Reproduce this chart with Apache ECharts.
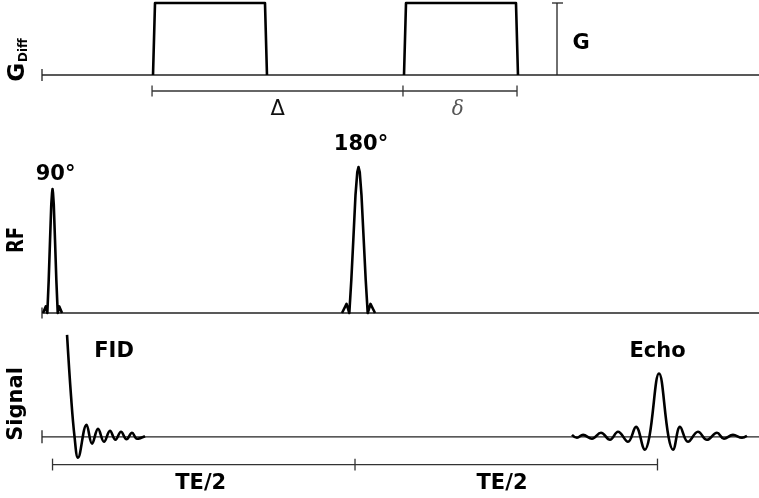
<!DOCTYPE html>
<html>
<head>
<meta charset="utf-8">
<script src="https://cdn.jsdelivr.net/npm/echarts@6/dist/echarts.min.js"></script>
<style>
  html, body { margin: 0; padding: 0; background: #fff; }
  #chart { width: 759px; height: 498px; }
</style>
</head>
<body>
<div id="chart"></div>
<script>
/* time in ms: 90° pulse at 0, echo at TE = 100 */
var tStart = -1.74, tEnd = 116.78;

/* diffusion gradient lobes [t, G/Gmax] */
var gradLobe1 = [[16.61, 0], [16.94, 1], [35.12, 1], [35.45, 0]];
var gradLobe2 = [[58.10, 0], [58.43, 1], [76.61, 1], [76.94, 0]];
var gradAmpT = 83.39;
var gradCap = [82.56, 84.38];
var deltaTicks = [16.45, 57.93, 76.78];

/* RF pulses [t, B1] */
var rf90 = [[-1.57, 0], [-1.12, 0.045], [-0.86, 0], [-0.63, 0.226], [-0.41, 0.5],
            [-0.21, 0.74], [-0.08, 0.822], [0, 0.849], [0.08, 0.822], [0.21, 0.74],
            [0.41, 0.5], [0.63, 0.226], [0.86, 0], [1.12, 0.045], [1.57, 0]];
var rf180 = [[47.85, 0], [48.60, 0.062], [49.06, 0], [49.39, 0.226], [49.72, 0.5],
             [50.08, 0.808], [50.38, 0.966], [50.58, 1], [50.78, 0.966], [51.07, 0.808],
             [51.44, 0.5], [51.77, 0.226], [52.10, 0], [52.56, 0.062], [53.31, 0]];

/* signal [t, amplitude] */
var fid = [[2.40, 1.0], [3.06, 0.398], [3.64, 0], [4.21, -0.204], [5.62, 0.117],
           [6.53, -0.068], [7.52, 0.078], [8.51, -0.049], [9.50, 0.058], [10.41, -0.029],
           [11.32, 0.049], [12.23, -0.024], [13.14, 0.039], [13.97, -0.019], [15.29, 0.005]];
var echo = [[85.87, 0.019], [86.69, -0.010], [87.69, 0.019], [89.17, -0.019], [90.66, 0.039],
            [92.15, -0.029], [93.47, 0.049], [95.12, -0.049], [96.45, 0.097], [97.93, -0.126],
            [98.66, 0], [100.25, 0.621], [101.82, 0],
            [102.56, -0.126], [103.72, 0.097], [105.04, -0.049], [106.69, 0.049], [108.18, -0.029],
            [109.83, 0.039], [110.99, -0.019], [112.48, 0.019], [113.97, -0.010], [114.79, 0.010]];
var teTicks = [0, 50, 100];

/* text labels [t, y, text] */
var gradLabels = [[37.2, -0.458, 'Δ']];
var smallDeltaLabels = [[67.0, -0.458, 'δ']];
var gLabels = [[87.36, 0.458, 'G']];
var rfLabels = [[0.5, 0.962, '90°'], [50.99, 1.168, '180°']];
var sigLabels = [[10.17, 0.854, 'FID'], [100.0, 0.854, 'Echo'],
                 [24.5, -0.437, 'TE/2'], [74.3, -0.437, 'TE/2']];

var FONT = '"DejaVu Sans", sans-serif';

function line(g, data, w, color, smooth) {
  return {
    type: 'line', xAxisIndex: g, yAxisIndex: g, data: data, symbol: 'none',
    smooth: smooth || false, clip: false, silent: true,
    lineStyle: { width: w, color: color, join: 'round' }
  };
}
function ticks(g, ts, y, h, w, color) {
  return ts.map(function (t) { return line(g, [[t, y - h], [t, y + h]], w, color); });
}
function texts(g, items, style) {
  return {
    type: 'scatter', xAxisIndex: g, yAxisIndex: g, symbolSize: 0, clip: false, silent: true,
    data: items,
    itemStyle: { opacity: 1, color: '#000' },
    label: Object.assign({
      show: true, position: 'inside', offset: [0, 2], opacity: 1,
      formatter: function (p) { return p.data[2]; },
      fontFamily: FONT, fontSize: 21, fontWeight: 'bold', color: '#000'
    }, style || {})
  };
}

var series = [];
/* gradient panel */
series.push(line(0, [[tStart, 0], [tEnd, 0]], 1.3, '#222'));
series = series.concat(ticks(0, [tStart], 0, 0.083, 1.3, '#222'));
series.push(line(0, gradLobe1, 2.6, '#000'));
series.push(line(0, gradLobe2, 2.6, '#000'));
series.push(line(0, [[gradAmpT, 0], [gradAmpT, 1]], 1.3, '#222'));
series.push(line(0, [[gradCap[0], 1], [gradCap[1], 1]], 1.3, '#222'));
series.push(line(0, [[deltaTicks[0], -0.222], [deltaTicks[2], -0.222]], 1.3, '#333'));
series = series.concat(ticks(0, deltaTicks, -0.222, 0.076, 1.3, '#333'));
series.push(texts(0, gradLabels, { fontWeight: 'normal', fontSize: 21, color: '#111' }));
series.push(texts(0, smallDeltaLabels, { fontWeight: 'normal', fontStyle: 'italic',
  fontFamily: '"DejaVu Serif", serif', fontSize: 20, color: '#555' }));
series.push(texts(0, gLabels));
/* RF panel */
series.push(line(1, [[tStart, 0], [tEnd, 0]], 1.3, '#222'));
series = series.concat(ticks(1, [tStart], 0, 0.038, 1.3, '#222'));
series.push(line(1, rf90, 2.6, '#000'));
series.push(line(1, rf180, 2.6, '#000'));
series.push(texts(1, rfLabels));
/* signal panel */
series.push(line(2, [[tStart, 0], [tEnd, 0]], 1.3, '#222'));
series = series.concat(ticks(2, [tStart], 0, 0.063, 1.3, '#222'));
series.push(line(2, fid, 2.6, '#000', 0.4));
series.push(line(2, echo, 2.6, '#000', 0.4));
series.push(line(2, [[teTicks[0], -0.272], [teTicks[2], -0.272]], 1.3, '#333'));
series = series.concat(ticks(2, teTicks, -0.272, 0.058, 1.3, '#333'));
series.push(texts(2, sigLabels));

function xAx(g) {
  return { type: 'value', gridIndex: g, min: tStart, max: tEnd, show: false };
}
function yAx(g, mn, mx) {
  return { type: 'value', gridIndex: g, min: mn, max: mx, show: false };
}

var option = {
  animation: false,
  backgroundColor: '#fff',
  grid: [
    { left: 42, right: 0, top: 3, height: 115.2 },
    { left: 42, right: 0, top: 123.2, height: 204.4 },
    { left: 42, right: 0, top: 314.4, height: 185.4 }
  ],
  xAxis: [xAx(0), xAx(1), xAx(2)],
  yAxis: [yAx(0, -0.6, 1), yAx(1, -0.1, 1.3), yAx(2, -0.6, 1.2)],
  graphic: [
    { type: 'text', x: 18, y: 60, rotation: Math.PI / 2, silent: true,
      style: { text: '{g|G}{s|Diff}', align: 'center', verticalAlign: 'middle',
        textAlign: 'center', textVerticalAlign: 'middle', fill: '#000',
        rich: {
          g: { fontFamily: FONT, fontWeight: 'bold', fontSize: 23, fill: '#000' },
          s: { fontFamily: FONT, fontWeight: 'bold', fontSize: 12, fill: '#000',
               verticalAlign: 'bottom', padding: [12, 0, 0, 1] }
        } } },
    { type: 'text', x: 17, y: 240, rotation: Math.PI / 2, scaleY: 1.3, silent: true,
      style: { text: 'RF', font: 'bold 18px ' + FONT, fill: '#000',
        align: 'center', verticalAlign: 'middle', textAlign: 'center', textVerticalAlign: 'middle' } },
    { type: 'text', x: 17, y: 404, rotation: Math.PI / 2, silent: true,
      style: { text: 'Signal', font: 'bold 21px ' + FONT, fill: '#000',
        align: 'center', verticalAlign: 'middle', textAlign: 'center', textVerticalAlign: 'middle' } }
  ],
  series: series
};

var chart = echarts.init(document.getElementById('chart'));
chart.setOption(option);
</script>
</body>
</html>
